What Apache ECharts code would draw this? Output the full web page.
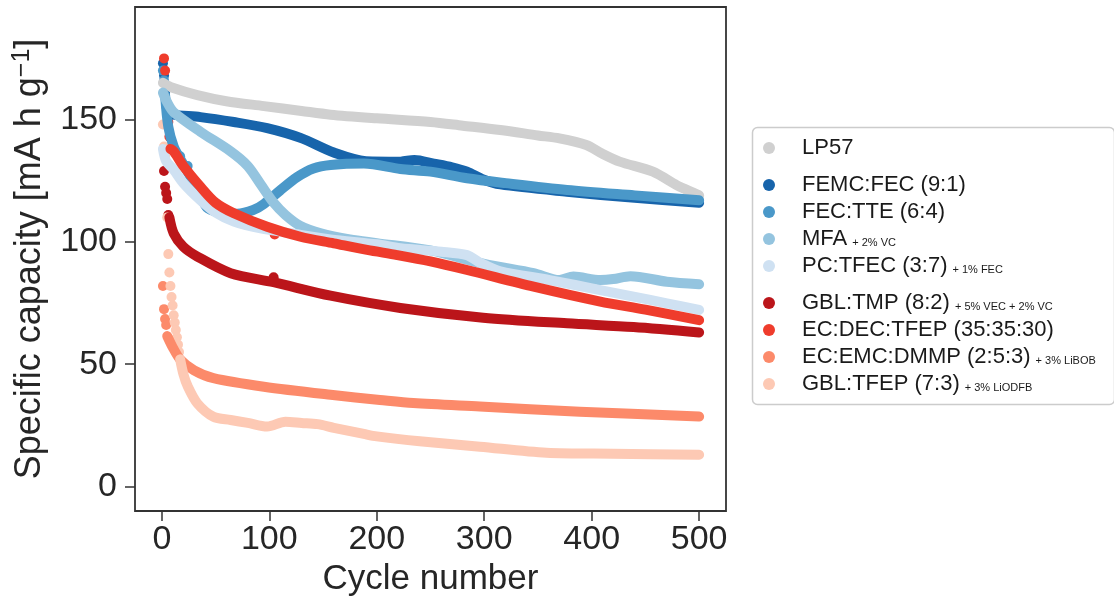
<!DOCTYPE html>
<html>
<head>
<meta charset="utf-8">
<title>Specific capacity vs cycle number</title>
<script src="https://cdn.jsdelivr.net/npm/echarts@6/dist/echarts.min.js"></script>
<style>
  html, body { margin: 0; padding: 0; background: #fff; }
  #main { width: 1114px; height: 603px; }
</style>
</head>
<body>
<div id="main"></div>
<script>
// electrolyte names, additive notes and colours (legend order = draw order)
var names = ['LP57', 'FEMC:FEC (9:1)', 'FEC:TTE (6:4)', 'MFA', 'PC:TFEC (3:7)',
  'GBL:TMP (8:2)', 'EC:DEC:TFEP (35:35:30)', 'EC:EMC:DMMP (2:5:3)', 'GBL:TFEP (7:3)'];
var additives = ['', '', '', '+ 2% VC', '+ 1% FEC', '+ 5% VEC + 2% VC', '', '+ 3% LiBOB', '+ 3% LiODFB'];
var colors = ['#d0d0d0', '#1764ab', '#4a98c9', '#94c4df', '#cfe1f2',
  '#bb151a', '#ef3c2c', '#fc8a6a', '#fdc9b4'];

var xTicks = [0, 100, 200, 300, 400, 500];
var yTicks = [0, 50, 100, 150];

// [cycle, capacity]: dense trail + sparse early points
var lp57Trend = [[1,165],[10,163],[33,160],[60,157.5],[95,155.5],[130,153.5],[157,152],[200,150.5],[250,149],
  [280,147.5],[315,145.7],[350,143.5],[370,142.3],[395,139.6],[410,136],[426,132.8],[457,128.7],[479,123.2],[490,121],[500,119]];
var lp57Dots = [];

var femcTrend = [[4,156],[6,153],[10,152],[36,151],[67,149],[98,146.5],[129,142.5],[160,136.5],[190,133],[222,132.8],
  [235,133.5],[253,132],[270,130.5],[284,128.7],[299,125.5],[315,123.5],[377,120.5],[440,118],[500,116]];
var femcDots = [[1,173],[2,168],[3,161]];

var tteTrend = [[3,160],[6,147],[11,139],[17,134],[30,124],[42,114],[55,112],[70,111.5],[85,113],[95,115.5],[110,121],
  [126,126.5],[141,130],[157,131.4],[188,132],[222,129.8],[250,128.7],[284,126],[320,124],[377,121.2],[440,119],[500,117]];
var tteDots = [[1,170],[2,166],[17,135],[24,131]];

var mfaTrend = [[1,161],[5,157],[11,153],[36,145],[64,137],[80,131],[92,123.5],[104,116],[115,111],[129,106.5],[148,103.5],
  [175,101],[200,99.5],[250,96.5],[300,91],[346,87.2],[370,84.4],[383,85.8],[408,84.4],[420,84.8],[436,86],[470,83.7],[500,82.7]];
var mfaDots = [];

var pcTrend = [[1,138],[4,133],[11,129.5],[20,124],[36,117],[50,112],[67,108.3],[92,105.5],[120,103.5],[157,101],[200,99],
  [222,97.4],[260,96],[284,94.6],[296,91.5],[315,88],[361,84.4],[408,80.3],[439,77.6],[470,74.9],[500,72.2]];
var pcDots = [];

var tmpTrend = [[7,110],[11,103.5],[20,98],[33,94],[64,87.2],[104,83.5],[157,78],[222,73],[299,69],[377,66.7],[439,65.2],[500,63]];
var tmpDots = [[2,129],[3,122.5],[4,120],[5,117.5],[6,111],[104,85.5]];

var decTrend = [[8,138],[11,137],[20,131],[36,122.5],[50,116],[67,111.7],[98,106.2],[129,102.1],[160,99.4],[191,96.7],
  [219,94.6],[250,92],[284,88.5],[346,81.7],[408,75.6],[450,72.3],[500,68]];
var decDots = [[2,175],[3,170],[5,154],[6,149],[7,143],[105,103]];

var dmmpTrend = [[5,61.5],[10,57],[17,52],[30,47.5],[48,44.3],[95,40.8],[157,37.5],[203,35.4],[234,34.1],[296,32.7],[389,30.6],[500,28.6]];
var dmmpDots = [[1,82],[2,72.5],[3,68.5],[4,66]];

var tfepTrend = [[17,52],[20,46],[24,41],[33,34],[48,28.5],[64,27.2],[80,26],[98,24.5],[115,26.5],[130,26],[145,25.5],[160,24],
  [188,21.5],[200,20.5],[240,18.5],[296,16.3],[358,13.8],[420,13.4],[500,13]];
var tfepDots = [[1,148],[2,139],[3,135],[5,110],[6,95],[7,87.5],[8,82],[9,77.5],[10,74],[11,70],[12,67],[13,64],[14,61],[15,58],[16,55]];

var trends = [lp57Trend, femcTrend, tteTrend, mfaTrend, pcTrend, tmpTrend, decTrend, dmmpTrend, tfepTrend];
var dots = [lp57Dots, femcDots, tteDots, mfaDots, pcDots, tmpDots, decDots, dmmpDots, tfepDots];

var myChart = echarts.init(document.getElementById('main'));

var series = [];
names.forEach(function (name, i) {
  series.push({
    name: name,
    type: 'line',
    data: trends[i],
    color: colors[i],
    symbol: 'none',
    smooth: 0.3,
    lineStyle: { width: 10, cap: 'round', join: 'round' }
  });
  if (dots[i].length) {
    series.push({
      name: name,
      type: 'scatter',
      data: dots[i],
      color: colors[i],
      symbolSize: 10,
      itemStyle: { opacity: 1 }
    });
  }
});

function legendBlock(list, top) {
  return {
    data: list,
    left: 763,
    top: top,
    orient: 'vertical',
    icon: 'circle',
    itemWidth: 12,
    itemHeight: 12,
    itemGap: 3,
    padding: 0,
    selectedMode: false,
    formatter: function (name) {
      var a = additives[names.indexOf(name)];
      return a ? name + '{s|' + a + '}' : name;
    },
    textStyle: {
      fontFamily: 'Liberation Sans',
      fontSize: 22,
      lineHeight: 24,
      color: '#1a1a1a',
      padding: [0, 0, 0, 22],
      rich: {
        s: { fontSize: 11, fontFamily: 'Liberation Sans', color: '#1a1a1a', padding: [8, 0, 0, 5] }
      }
    }
  };
}

var option = {
  animation: false,
  backgroundColor: '#fff',
  grid: {
    left: 135, right: 388, top: 7, bottom: 92,
    show: true, borderColor: '#333', borderWidth: 1.8
  },
  xAxis: {
    type: 'value',
    min: -25,
    max: 525,
    name: 'Cycle number',
    nameLocation: 'middle',
    nameGap: 48,
    nameTextStyle: { fontFamily: 'Liberation Sans', fontSize: 35, color: '#262626' },
    axisLine: { show: false, onZero: false },
    splitLine: { show: false },
    axisTick: { show: true, length: 10, customValues: xTicks, lineStyle: { color: '#333', width: 1.5 } },
    axisLabel: { customValues: xTicks, margin: 12, fontFamily: 'Liberation Sans', fontSize: 34, color: '#262626' }
  },
  yAxis: {
    type: 'value',
    min: -10,
    max: 196,
    name: 'Specific capacity [mA h g{sup|\u22121}]',
    nameLocation: 'middle',
    nameGap: 85,
    nameRotate: 90,
    nameTextStyle: {
      fontFamily: 'Liberation Sans', fontSize: 36, color: '#262626',
      rich: { sup: { fontFamily: 'Liberation Sans', fontSize: 25, color: '#262626', verticalAlign: 'top', lineHeight: 40 } }
    },
    axisLine: { show: false, onZero: false },
    splitLine: { show: false },
    axisTick: { show: true, length: 10, customValues: yTicks, lineStyle: { color: '#333', width: 1.5 } },
    axisLabel: { customValues: yTicks, margin: 18, fontFamily: 'Liberation Sans', fontSize: 34, color: '#262626' }
  },
  legend: [
    legendBlock(names.slice(0, 1), 136),
    legendBlock(names.slice(1, 5), 173),
    legendBlock(names.slice(5), 291)
  ],
  graphic: [{
    type: 'rect',
    z: 0,
    shape: { x: 752.5, y: 127.5, width: 362, height: 277, r: 5 },
    style: { fill: '#ffffff', stroke: '#cccccc', lineWidth: 1.5 }
  }],
  series: series
};

myChart.setOption(option);
</script>
</body>
</html>
